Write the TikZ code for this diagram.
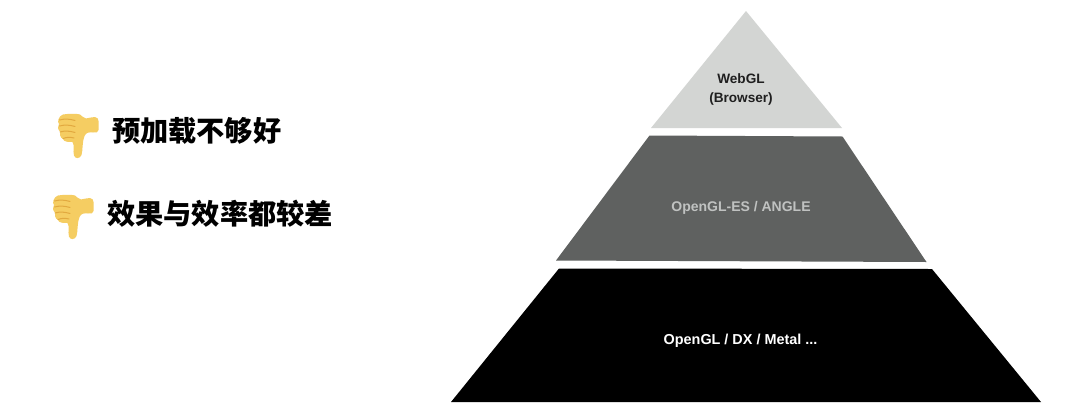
\documentclass[tikz,border=0pt]{standalone}
\usepackage{fontspec}
\setmainfont{Liberation Sans}
\newfontfamily\cjk{Noto Sans CJK SC}
\definecolor{toplayer}{HTML}{D3D5D3}
\definecolor{midlayer}{HTML}{5F6160}
\definecolor{midtext}{HTML}{C0C2C1}
\definecolor{thumbfill}{HTML}{F5CD62}
\definecolor{thumbshade}{HTML}{E2A93F}
\tikzset{
  x=1pt,y=-1pt,
  layer/.style={draw=none},
  lbl/.style={font=\bfseries\fontsize{13.6}{18.5}\selectfont,align=center,inner sep=0pt},
  lblmid/.style={lbl,font=\bfseries\fontsize{14}{18}\selectfont},
  lblwide/.style={lbl,font=\bfseries\fontsize{14.4}{18}\selectfont},
  cnt/.style={font=\cjk\fontseries{b}\selectfont\fontsize{28.2}{32}\selectfont,inner sep=0pt,anchor=west,text=black},
  pics/thumbdown/.style={code={
    \fill[thumbfill] (6,0.5) .. controls (12,-0.5) and (20,-0.5) .. (23,0.5)
      .. controls (25,1.5) and (26,4) .. (29,4.5)
      .. controls (32,4.5) and (35,2.5) .. (38,3) .. controls (40.5,3.5) and (41.5,5) .. (41.5,7)
      -- (41.5,16) .. controls (41.5,18.5) and (39,19) .. (36,18.5)
      .. controls (32,18) and (29,18.5) .. (27.5,22)
      .. controls (25,28) and (26,36) .. (24.5,41) .. controls (23,45) and (18,45) .. (17,41.5)
      .. controls (15.5,36) and (18,32) .. (15.5,28)
      .. controls (11,28) and (7,28) .. (6,25)
      .. controls (3,23.5) and (2.5,20) .. (3,17.5)
      .. controls (0.5,15.5) and (0.5,12) .. (2,10)
      .. controls (0,8) and (1.5,2) .. (6,0.5) -- cycle;
    \draw[thumbshade,line width=1pt,line cap=round]
      (2.5,6) .. controls (8,4.5) and (13,5) .. (18,6.5)
      (2.5,12) .. controls (8,10.5) and (13,11) .. (18,12.5)
      (3,18) .. controls (8,16.5) and (13,17) .. (18,18.5)
      (6,24.5) .. controls (10,23) and (13,23) .. (17,24);
  }}
}
\begin{document}
\begin{tikzpicture}
\useasboundingbox (0,0) rectangle (1080,413);
\fill[white] (0,0) rectangle (1080,413);
\fill[toplayer,layer] (746,11) -- (842,128) -- (651,128) -- cycle;
\fill[midlayer,layer] (649.5,135.5) -- (842.5,136.5) -- (926.5,262) -- (556,260.5) -- cycle;
\fill[black,layer] (559,268.5) -- (932,269) -- (1041,402) -- (451,402) -- cycle;
\node[lbl,text=black!88] (web) at (741,89.5) {WebGL\\(Browser)};
\node[lblmid,text=midtext] (es) at (741,207.5) {OpenGL-ES / ANGLE};
\node[lblwide,text=white] (gl) at (740.5,340.5) {OpenGL / DX / Metal ...};
\pic at (57,114) {thumbdown};
\pic at (52,195) {thumbdown};
\node[cnt] (a) at (112,131) {预加载不够好};
\node[cnt] (b) at (107,214) {效果与效率都较差};
\end{tikzpicture}
\end{document}
